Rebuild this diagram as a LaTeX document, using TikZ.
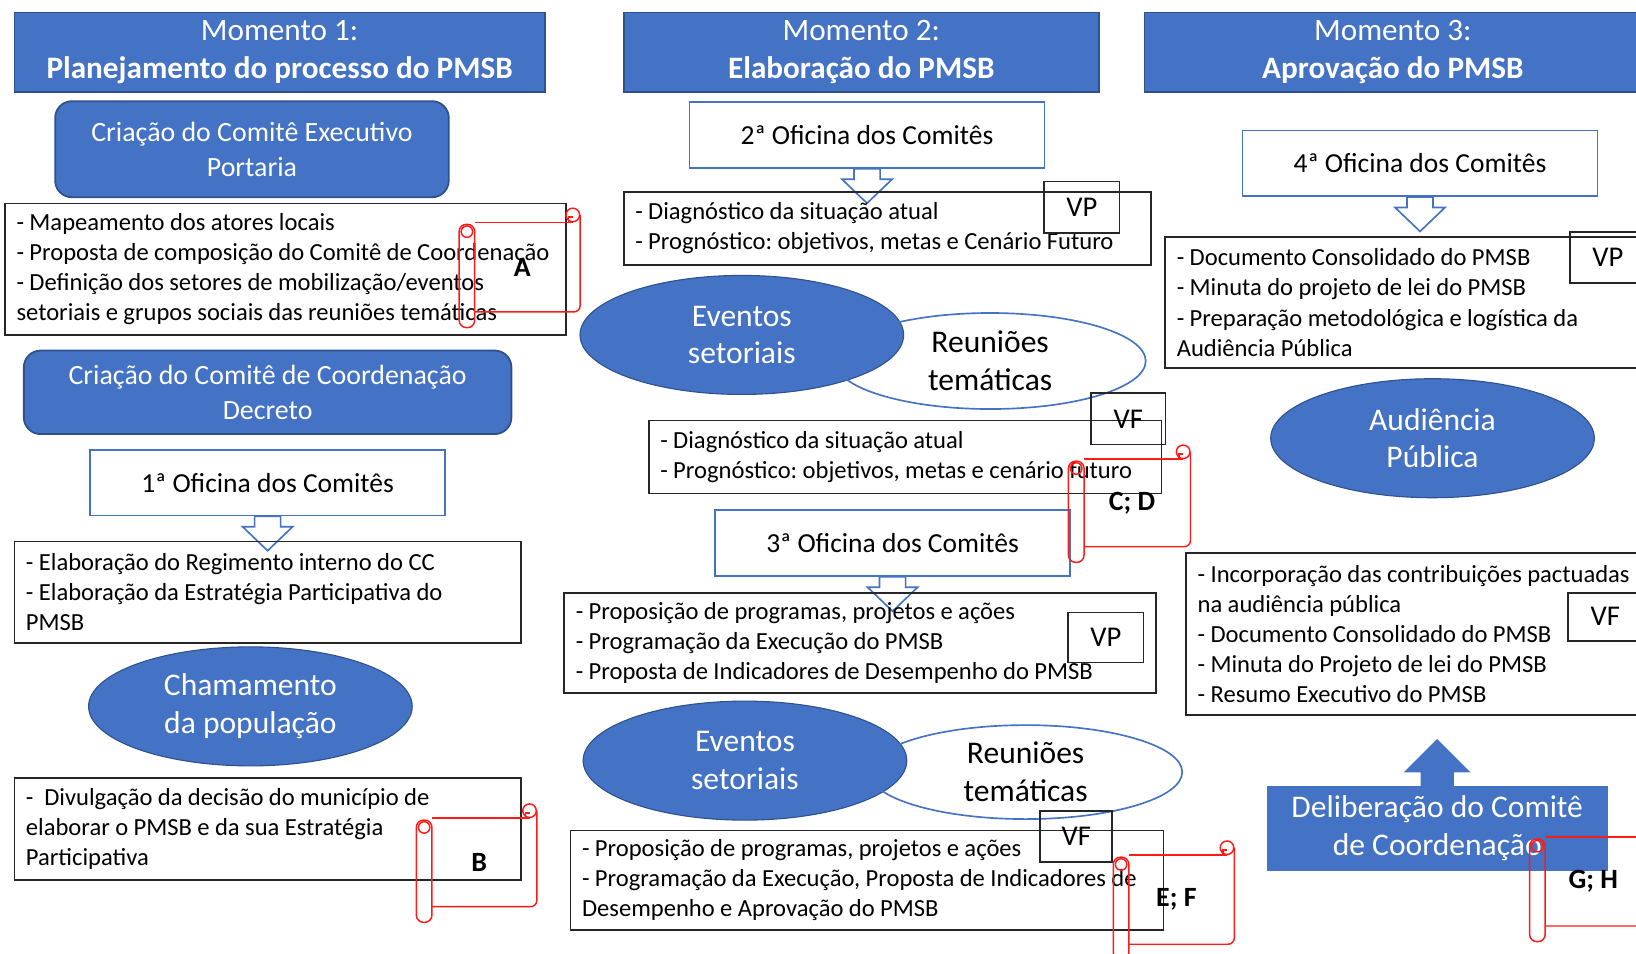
\documentclass[tikz,border=0pt]{standalone}
\usepackage{fontspec}
\setmainfont{Carlito}
\usetikzlibrary{shapes.geometric}
\frenchspacing

\definecolor{azul}{HTML}{4472C4}
\definecolor{azulesc}{HTML}{2F528F}
\definecolor{borda}{HTML}{262626}
\definecolor{vermelho}{HTML}{FF1A1A}

\protected\def\apertado{\spaceskip=0.22em plus 0.05em minus 0.04em\relax\xspaceskip=0pt\relax\hyphenpenalty=10000\relax}

\tikzset{
    momento/.style={rectangle, fill=azul, draw=azulesc, line width=0.5pt, text=white, align=center, inner sep=0pt, font=\fontsize{8.5}{10.2}\selectfont},
    criacao/.style={rectangle, rounded corners=0.16cm, fill=azul, draw=azulesc, line width=0.5pt, text=white, align=center, inner sep=0pt, font=\fontsize{7.6}{9.4}\selectfont},
    oficina/.style={rectangle, fill=white, draw=azul, line width=0.45pt, inner sep=0pt, minimum width=3.4cm, minimum height=0.63cm, font=\fontsize{7.5}{9}\selectfont},
    lista/.style={rectangle, draw=borda, line width=0.5pt, align=flush left, inner xsep=0.11cm, inner ysep=0pt, font=\fontsize{6.7}{8.2}\selectfont, execute at begin node=\apertado},
    selo/.style={rectangle, draw=borda, line width=0.5pt, inner sep=0pt, font=\fontsize{7.8}{9}\selectfont},
    evento/.style={ellipse, fill=azul, draw=azulesc, line width=0.3pt, text=white, align=center, inner sep=0pt, minimum width=3.1cm, minimum height=1.14cm, font=\fontsize{8.6}{10.3}\selectfont},
    reuniao/.style={ellipse, draw=azul, line width=0.45pt, align=center, inner sep=0pt, font=\fontsize{8.6}{10.3}\selectfont},
    seta/.style={draw=azul, fill=white, line width=0.45pt},
    rolo/.style={draw=vermelho, line width=0.4pt},
    rotulo/.style={font=\bfseries\fontsize{7.6}{9}\selectfont},
}

% pergaminho vermelho: nome, esquerda, topo, direita, base, texto
\newcommand{\pergaminho}[6]{%
    \draw[rolo, rounded corners=0.07cm] ({#2},{#3+2}) rectangle ({#2+15},{#5+15});
    \draw[rolo] ({#2+7.5},{#3+9}) circle (5.5);
    \draw[rolo] ({#2+15},{#3}) -- ({#4-7},{#3});
    \draw[rolo] ({#4-7},{#3-7}) circle (6.5);
    \draw[rolo] ({#4-11},{#3}) -- ({#4-11},{#3-5}) -- ({#4-7},{#3-5});
    \draw[rolo, rounded corners=0.06cm] ({#4},{#3-7}) -- ({#4},{#5}) -- ({#2+15},{#5});
    \node[rotulo] (#1) at ({(#2+#4)/2+2.5},{(#3+#5)/2}) {#6};
}

% seta vazada para baixo saindo de uma oficina
\newcommand{\setabaixo}[1]{%
    \draw[seta] (#1.south) ++(-12.5,0) -- ++(0,10) -- ++(-11.5,0) -- ++(24,23) -- ++(24,-23) -- ++(-11.5,0) -- ++(0,-10) -- cycle;
}

\begin{document}
\begin{tikzpicture}[x=0.01cm, y=-0.01cm]
    \useasboundingbox (0,0) rectangle (1568,914);
    \clip (0,0) rectangle (1568,914);

    \node[momento, minimum width=5.08cm, minimum height=0.76cm] (m1) at (268,50) {Momento 1:\\\textbf{Planejamento do processo do PMSB}};
    \node[momento, minimum width=4.55cm, minimum height=0.76cm] (m2) at (825.5,50) {Momento 2:\\\textbf{Elaboração do PMSB}};
    \node[momento, minimum width=4.76cm, minimum height=0.76cm] (m3) at (1335,50) {Momento 3:\\\textbf{Aprovação do PMSB}};

    \node[criacao, minimum width=3.77cm, minimum height=0.92cm] (ce) at (241.5,143) {Criação do Comitê Executivo\\Portaria};
    \node[criacao, minimum width=4.67cm, minimum height=0.80cm] (cc) at (256.5,376) {Criação do Comitê de Coordenação\\Decreto};

    \node[oficina] (of1) at (256.5,462.5) {1ª Oficina dos Comitês};
    \node[oficina] (of2) at (831,129.5) {2ª Oficina dos Comitês};
    \node[oficina] (of3) at (855.5,520.5) {3ª Oficina dos Comitês};
    \node[oficina] (of4) at (1361,156.5) {4ª Oficina dos Comitês};
    \setabaixo{of1}
    \setabaixo{of2}
    \setabaixo{of3}
    \setabaixo{of4}

    \node[evento] (chama) at (240,677) {Chamamento\\da população};
    \node[evento] (ev1) at (711,321) {Eventos\\setoriais};
    \node[reuniao, minimum width=2.98cm, minimum height=0.92cm] (re1) at (949,346) {Reuniões\\temáticas};
    \node[evento] (ev2) at (714,729) {Eventos\\setoriais};
    \node[reuniao, minimum width=3.0cm, minimum height=0.90cm] (re2) at (983,740) {Reuniões\\temáticas};
    \node[evento] (aud) at (1373,420) {Audiência\\Pública};

    \node[lista, text width=5.15cm, minimum height=1.26cm] (mapa) at (273.5,258) {- Mapeamento dos atores locais\\- Proposta de composição do Comitê de Coordenação\\- Definição dos setores de mobilização/eventos\\setoriais e grupos sociais das reuniões temáticas};
    \node[lista, text width=4.63cm, minimum height=0.97cm] (elab) at (256.5,567.5) {- Elaboração do Regimento interno do CC\\- Elaboração da Estratégia Participativa do\\PMSB};
    \node[lista, text width=4.63cm, minimum height=0.97cm] (divul) at (256.5,794.5) {-~ Divulgação da decisão do município de\\elaborar o PMSB e da sua Estratégia\\Participativa};
    \node[lista, text width=4.83cm, minimum height=0.70cm] (diag1) at (850.5,219) {- Diagnóstico da situação atual\\- Prognóstico: objetivos, metas e Cenário Futuro};
    \node[lista, text width=4.69cm, minimum height=0.70cm] (diag2) at (867.5,438) {- Diagnóstico da situação atual\\- Prognóstico: objetivos, metas e cenário futuro};
    \node[lista, text width=5.45cm, minimum height=0.96cm] (prop1) at (824.5,616) {- Proposição de programas, projetos e ações\\- Programação da Execução do PMSB\\- Proposta de Indicadores de Desempenho do PMSB};
    \node[lista, text width=5.46cm, minimum height=0.95cm] (prop2) at (831,843.5) {- Proposição de programas, projetos e ações\\- Programação da Execução, Proposta de Indicadores de\\Desempenho e Aprovação do PMSB};
    \node[lista, text width=4.61cm, minimum height=1.26cm] (docs) at (1358.5,290) {- Documento Consolidado do PMSB\\- Minuta do projeto de lei do PMSB\\- Preparação metodológica e logística da\\Audiência Pública};
    \node[lista, text width=4.61cm, minimum height=1.55cm] (incorp) at (1378.5,607.5) {- Incorporação das contribuições pactuadas\\na audiência pública\\- Documento Consolidado do PMSB\\- Minuta do Projeto de lei do PMSB\\- Resumo Executivo do PMSB};

    \node[selo, minimum width=0.72cm, minimum height=0.49cm] (vp1) at (1037,198.5) {VP};
    \node[selo, minimum width=0.71cm, minimum height=0.49cm] (vf1) at (1081.5,401.5) {VF};
    \node[selo, minimum width=0.72cm, minimum height=0.48cm] (vp2) at (1060,611) {VP};
    \node[selo, minimum width=0.69cm, minimum height=0.49cm] (vf2) at (1031.5,801.5) {VF};
    \node[selo, minimum width=0.72cm, minimum height=0.49cm] (vp3) at (1541,246.5) {VP};
    \node[selo, minimum width=0.71cm, minimum height=0.46cm] (vf3) at (1538.5,591) {VF};

    \node[rectangle, fill=azul, text=white, align=center, inner sep=0pt, minimum width=3.27cm, minimum height=0.82cm, font=\fontsize{8.6}{10.3}\selectfont] (delib) at (1377.5,794) {Deliberação do Comitê\\de Coordenação};
    \fill[azul] (delib.north) ++(-16,1) -- ++(0,-13) -- ++(-16,0) -- ++(32,-32) -- ++(32,32) -- ++(-16,0) -- ++(0,13) -- cycle;

    \pergaminho{pa}{440}{213}{556}{299}{A}
    \pergaminho{pb}{399}{784}{514.5}{869}{B}
    \pergaminho{pcd}{1024}{440}{1141}{524}{C; D}
    \pergaminho{pef}{1067}{819.5}{1183}{905}{E; F}
    \pergaminho{pgh}{1466}{802}{1583}{887.5}{G; H}
\end{tikzpicture}
\end{document}
